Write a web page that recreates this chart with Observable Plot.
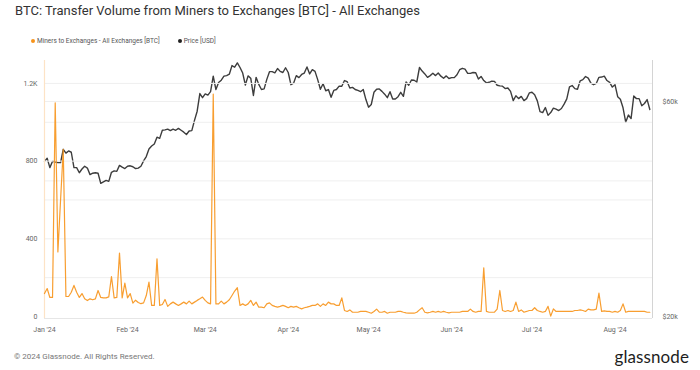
<!DOCTYPE html>
<html>
<head>
<meta charset="utf-8">
<script src="https://cdn.jsdelivr.net/npm/d3@7"></script>
<script src="https://cdn.jsdelivr.net/npm/@observablehq/plot@0.6"></script>
<style>
  html, body { margin: 0; padding: 0; background: #fff; }
  body { width: 700px; height: 370px; position: relative; overflow: hidden; font-family: Roboto, "Liberation Sans", sans-serif; }
  #title { position: absolute; left: 15px; top: 3px; font-size: 13px; color: #333; white-space: nowrap; }
  #legend { position: absolute; left: 31px; top: 37px; font-size: 6.5px; color: #555; white-space: nowrap; display: flex; gap: 18px; }
  #legend span.dot { display: inline-block; width: 4px; height: 4px; border-radius: 50%; margin-right: 2px; vertical-align: middle; position: relative; top: -0.5px; }
  #chart { position: absolute; left: 0; top: 50px; width: 700px; height: 290px; }
  #chart svg { position: absolute; left: 0; top: 0; }
  #footer { position: absolute; left: 14px; top: 352px; font-size: 8px; color: #777; white-space: nowrap; }
  #logo { position: absolute; right: 11px; top: 346px; font-size: 17px; color: #1e1e1e; font-family: Lato, "Noto Sans", sans-serif; font-weight: 400; letter-spacing: 0.1px; }
</style>
</head>
<body>
<div id="title">BTC: Transfer Volume from Miners to Exchanges [BTC] - All Exchanges</div>
<div id="legend">
  <div><span class="dot" style="background:#f7931a"></span>Miners to Exchanges - All Exchanges [BTC]</div>
  <div><span class="dot" style="background:#222"></span>Price [USD]</div>
</div>
<div id="chart"></div>
<div id="footer">© 2024 Glassnode. All Rights Reserved.</div>
<div id="logo">glassnode</div>
<script>
// ---- Data (daily, starting 2024-01-01) ----
const startDate = "2024-01-01";

// Miners -> exchanges transfer volume [BTC]
const volJan = [118,144,98,98,1100,332,600,860,103,103,125,160,125,98,118,91,82,91,86,91,134,98,96,96,101,206,96,98,327,96,172];
const volFeb = [96,118,69,84,72,66,70,108,177,57,57,297,57,62,88,52,65,74,65,57,65,74,65,79,65,74,83,91,100];
const volMar = [83,70,65,1145,65,65,79,65,74,86,108,131,148,57,65,57,65,83,57,74,48,48,45,65,70,57,52,48,52,57,52];
const volApr = [45,52,48,52,45,39,45,48,52,57,57,65,52,65,57,74,65,65,57,57,96,31,26,34,22,22,22,26,26,26];
const volMay = [22,17,26,38,22,22,26,17,22,22,22,26,26,22,19,17,17,17,22,34,45,22,19,22,26,22,26,22,26,22,19];
const volJun = [22,22,22,22,26,26,26,38,26,22,26,26,251,26,22,22,22,38,134,31,26,31,26,31,74,26,34,22,26,31];
const volJul = [31,45,31,26,22,26,52,2,39,26,26,26,26,26,26,26,31,31,34,31,26,38,34,34,38,120,26,29,26,26,22];
const volAug = [26,22,31,65,22,26,26,26,26,26,26,26,22,22];

// BTC price [USD thousands]
const priceJan = [44.2,44.9,42.8,44.2,44.1,43.9,43.9,47.0,46.1,46.6,46.3,42.8,42.8,41.7,42.5,43.1,42.7,41.3,41.6,41.7,41.6,39.5,39.8,40.1,39.9,41.8,42.1,42.0,43.3,42.9,42.6];
const priceFeb = [43.1,43.2,43.0,42.6,42.7,43.1,44.3,45.3,47.1,47.8,48.3,50.0,49.7,51.8,51.9,52.1,51.7,52.1,51.8,52.3,51.8,51.3,50.7,51.6,51.7,54.5,57.1,62.5,61.2];
const priceMar = [62.4,62.0,63.1,68.3,63.8,66.1,66.9,68.3,68.5,69.0,72.1,71.5,73.1,71.4,69.4,65.3,68.4,67.6,61.9,67.9,65.5,63.8,64.0,67.2,69.9,69.9,69.5,71.0,70.0,69.6,71.3];
const priceApr = [69.6,65.4,65.9,68.5,67.8,68.9,69.4,71.6,69.1,70.6,70.0,67.1,63.9,65.7,63.4,63.8,61.3,63.5,63.8,64.9,64.9,66.8,66.4,64.3,64.5,63.8,63.5,63.1,63.8,60.6];
const priceMay = [58.3,59.1,62.9,63.9,64.0,63.2,62.3,61.2,63.1,60.8,60.8,61.5,62.9,61.6,66.3,65.2,67.0,66.9,66.3,71.4,70.1,69.1,67.9,68.5,69.3,68.5,69.4,68.3,67.6,68.4,67.5];
const priceJun = [67.8,67.8,68.8,70.6,71.1,70.8,69.3,69.3,69.6,69.5,67.3,68.2,66.8,66.0,66.2,66.6,66.5,65.2,65.0,64.9,64.1,64.3,63.2,60.3,61.8,60.9,61.6,60.3,60.9,62.7];
const priceJul = [62.9,62.1,60.2,57.0,56.7,58.2,55.9,56.7,58.0,57.7,57.3,57.9,59.2,60.8,64.7,65.1,64.1,63.9,66.7,67.1,68.2,67.6,65.9,65.4,65.8,67.9,68.0,68.3,66.8,66.2,64.6];
const priceAug = [65.4,61.5,60.7,58.1,54.0,56.0,55.0,61.7,60.9,60.9,58.7,59.4,60.6,57.6];

// Axis ticks / gridlines
const volTicks = [0, 400, 800, 1200];
const volGrid = [200, 400, 600, 800, 1000, 1200];
const priceTicks = [20000, 60000];
const priceGrid = [40000, 60000];
const xDomain = [new Date("2024-01-01"), new Date("2024-08-15")];

// ---- Build table ----
const vols = [].concat(volJan, volFeb, volMar, volApr, volMay, volJun, volJul, volAug);
const prices = [].concat(priceJan, priceFeb, priceMar, priceApr, priceMay, priceJun, priceJul, priceAug);
const t0 = new Date(startDate);
const data = vols.map((v, i) => ({ date: d3.utcDay.offset(t0, i), vol: v, price: prices[i] * 1000 }));

const W = 700, H = 290;
const common = {
  width: W, height: H,
  marginTop: 10, marginBottom: 22, marginLeft: 44, marginRight: 48
};
const font = { fontFamily: "Roboto, 'Liberation Sans', sans-serif", fontSize: "7px", color: "#666", overflow: "visible" };

// Price plot (underneath, log scale, right axis)
const pricePlot = Plot.plot({
  ...common,
  style: { ...font, background: "#fff" },
  x: { type: "utc", domain: xDomain, axis: null },
  y: { type: "log", domain: [20000, 74000], insetBottom: 2, axis: null },
  marks: [
    Plot.gridY(priceGrid, { stroke: "#efefef", strokeOpacity: 1 }),
    Plot.axisY(priceTicks, { anchor: "right", label: null, tickSize: 0, tickPadding: 10, textAnchor: "start", tickFormat: d => "$" + d / 1000 + "k", fill: "#666" }),
    Plot.lineY(data, { x: "date", y: "price", stroke: "#3d3d3d", strokeWidth: 1.4 })
  ]
});

// Volume plot (on top, transparent, left axis + x axis)
const volPlot = Plot.plot({
  ...common,
  style: { ...font, background: "transparent" },
  x: { type: "utc", domain: xDomain, axis: null },
  y: { domain: [0, 1318], insetBottom: 2, axis: null },
  marks: [
    Plot.gridY(volGrid, { stroke: "#efefef", strokeOpacity: 1 }),
    Plot.ruleY([0], { stroke: "#e6e6e6", dy: 2 }),
    Plot.ruleX([xDomain[0]], { stroke: "#fde3c6", strokeWidth: 1.2 }),
    Plot.ruleX([xDomain[1]], { stroke: "#d4d4d4" }),
    Plot.axisY(volTicks, { anchor: "left", label: null, tickSize: 0, tickPadding: 7, tickFormat: d => d >= 1000 ? (d / 1000) + "K" : String(d), fill: "#666" }),
    Plot.axisX(d3.utcMonths(xDomain[0], xDomain[1]), { anchor: "bottom", label: null, tickSize: 0, tickPadding: 9, tickFormat: d3.utcFormat("%b '%y"), fill: "#666" }),
    Plot.lineY(data, { x: "date", y: "vol", stroke: "#f7931a", strokeWidth: 1.2, strokeOpacity: 0.9 })
  ]
});

const chart = document.getElementById("chart");
chart.appendChild(pricePlot);
chart.appendChild(volPlot);
</script>
</body>
</html>
